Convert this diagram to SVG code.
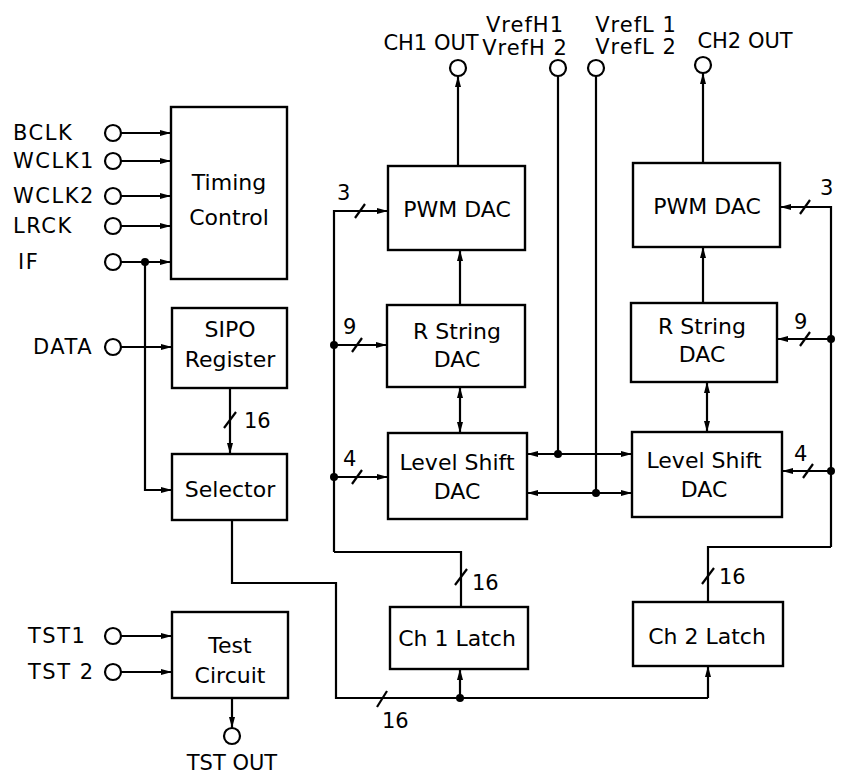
<svg xmlns="http://www.w3.org/2000/svg" width="845" height="774" viewBox="0 0 845 774">
<defs>
<marker id="ar" markerWidth="11" markerHeight="8" refX="11" refY="4" orient="auto-start-reverse" markerUnits="userSpaceOnUse"><path d="M0,1 L11,4 L0,7 z" fill="#000"/></marker>
</defs>
<style>
text{font-family:"DejaVu Sans","Liberation Sans",sans-serif;font-size:21px;fill:#000}
.c{text-anchor:middle}
.bt{font-size:22px}
.box{fill:#fff;stroke:#000;stroke-width:2.4}
.w{fill:none;stroke:#000;stroke-width:2.2}
.a{marker-end:url(#ar)}
.b{marker-start:url(#ar);marker-end:url(#ar)}
.pin{fill:#fff;stroke:#000;stroke-width:2.2}
.dot{fill:#000}
.lbl{letter-spacing:1.5px}
.ls{letter-spacing:1px}
</style>
<rect width="845" height="774" fill="#fff"/>

<g id="connectors">
<path class="w a" d="M121,133 H171"/>
<path class="w a" d="M121,161 H171"/>
<path class="w a" d="M121,196 H171"/>
<path class="w a" d="M121,226 H171"/>
<path class="w a" d="M121,262 H171"/>
<path class="w a" d="M145,262 V490 H172"/>
<circle class="dot" cx="145" cy="262" r="4"/>
<path class="w a" d="M121,347 H172"/>
<path class="w a" d="M230,388 V454"/>
<path class="w" d="M224,428 L236,412"/>
<path class="w" d="M232,520 V583 H336 V698 H708"/>
<path class="w a" d="M708,698 V666"/>
<path class="w a" d="M460,698 V669"/>
<circle class="dot" cx="460" cy="698" r="4"/>
<path class="w" d="M377,707 L387,691"/>
<path class="w a" d="M334,552 V211 H388"/>
<path class="w" d="M334,552 H461 V607"/>
<path class="w" d="M455,585 L467,569"/>
<path class="w" d="M355,218 L365,204"/>
<path class="w a" d="M334,345 H387"/>
<path class="w" d="M352,352 L362,338"/>
<circle class="dot" cx="334" cy="345" r="4"/>
<path class="w a" d="M334,477 H388"/>
<path class="w" d="M352,484 L362,470"/>
<circle class="dot" cx="334" cy="477" r="4"/>
<path class="w a" d="M831,547 V207 H780"/>
<path class="w" d="M831,547 H708 V602"/>
<path class="w" d="M702,584 L714,568"/>
<path class="w" d="M800,214 L810,200"/>
<path class="w a" d="M831,339 H777"/>
<path class="w" d="M800,346 L810,332"/>
<circle class="dot" cx="831" cy="339" r="4"/>
<path class="w a" d="M831,471 H782"/>
<path class="w" d="M803,478 L813,464"/>
<circle class="dot" cx="831" cy="471" r="4"/>
<path class="w a" d="M458,166 V76"/>
<path class="w a" d="M460,305 V250"/>
<path class="w b" d="M460,387 V433"/>
<path class="w a" d="M703,163 V73"/>
<path class="w a" d="M703,303 V247"/>
<path class="w b" d="M707,382 V432"/>
<path class="w" d="M558,76 V454"/>
<path class="w" d="M596,76 V493"/>
<path class="w b" d="M527,454 H632"/>
<path class="w b" d="M527,493 H632"/>
<circle class="dot" cx="558" cy="454" r="4"/>
<circle class="dot" cx="596" cy="493" r="4"/>
<path class="w a" d="M121,636 H172"/>
<path class="w a" d="M121,672 H172"/>
<path class="w a" d="M232,698 V728"/>
</g>

<g id="pins">
<circle class="pin" cx="113" cy="133" r="8"/>
<circle class="pin" cx="113" cy="161" r="8"/>
<circle class="pin" cx="113" cy="196" r="8"/>
<circle class="pin" cx="113" cy="226" r="8"/>
<circle class="pin" cx="113" cy="262" r="8"/>
<circle class="pin" cx="113" cy="347" r="8"/>
<circle class="pin" cx="113" cy="636" r="8"/>
<circle class="pin" cx="113" cy="672" r="8"/>
<circle class="pin" cx="232" cy="736" r="8"/>
<circle class="pin" cx="458" cy="68" r="8"/>
<circle class="pin" cx="558" cy="68" r="8"/>
<circle class="pin" cx="596" cy="68" r="8"/>
<circle class="pin" cx="703" cy="65" r="8"/>
</g>

<g id="labels">
<text class="lbl" x="13" y="140">BCLK</text>
<text class="lbl" x="13" y="168">WCLK1</text>
<text class="lbl" x="13" y="203">WCLK2</text>
<text class="lbl" x="13" y="233">LRCK</text>
<text class="lbl" x="18" y="269">IF</text>
<text class="lbl" x="33" y="354">DATA</text>
<text class="lbl" x="28" y="643">TST1</text>
<text class="lbl" x="28" y="679">TST 2</text>
<text class="c" x="232" y="770">TST OUT</text>
<text class="c" x="431" y="50">CH1 OUT</text>
<text class="c ls" x="525" y="32">VrefH1</text>
<text class="c ls" x="525" y="55">VrefH 2</text>
<text class="c ls" x="636" y="32">VrefL 1</text>
<text class="c ls" x="636" y="54">VrefL 2</text>
<text class="c" x="745" y="48">CH2 OUT</text>
<text x="244" y="428">16</text>
<text x="337" y="200">3</text>
<text x="820" y="195">3</text>
<text x="343" y="334">9</text>
<text x="794" y="329">9</text>
<text x="343" y="466">4</text>
<text x="794" y="461">4</text>
<text x="472" y="590">16</text>
<text x="719" y="584">16</text>
<text x="382" y="728">16</text>
</g>

<g id="timing"><rect class="box" x="171" y="107" width="116" height="172"/><text class="c bt" x="229" y="190">Timing</text><text class="c bt" x="229" y="225">Control</text></g>
<g id="sipo"><rect class="box" x="172" y="308" width="115" height="80"/><text class="c bt" x="230" y="337">SIPO</text><text class="c bt" x="230" y="367">Register</text></g>
<g id="selector"><rect class="box" x="172" y="454" width="115" height="66"/><text class="c bt" x="230" y="497">Selector</text></g>
<g id="test"><rect class="box" x="172" y="612" width="116" height="86"/><text class="c bt" x="230" y="653">Test</text><text class="c bt" x="230" y="683">Circuit</text></g>
<g id="pwm1"><rect class="box" x="388" y="166" width="137" height="84"/><text class="c bt" x="457" y="217">PWM DAC</text></g>
<g id="rstr1"><rect class="box" x="387" y="305" width="138" height="82"/><text class="c bt" x="457" y="339">R String</text><text class="c bt" x="457" y="367">DAC</text></g>
<g id="lvl1"><rect class="box" x="388" y="433" width="139" height="86"/><text class="c bt" x="457" y="470">Level Shift</text><text class="c bt" x="457" y="499">DAC</text></g>
<g id="latch1"><rect class="box" x="390" y="607" width="138" height="62"/><text class="c bt" x="457" y="646">Ch 1 Latch</text></g>
<g id="pwm2"><rect class="box" x="633" y="163" width="147" height="84"/><text class="c bt" x="707" y="214">PWM DAC</text></g>
<g id="rstr2"><rect class="box" x="631" y="303" width="146" height="79"/><text class="c bt" x="702" y="334">R String</text><text class="c bt" x="702" y="362">DAC</text></g>
<g id="lvl2"><rect class="box" x="632" y="432" width="150" height="85"/><text class="c bt" x="704" y="468">Level Shift</text><text class="c bt" x="704" y="497">DAC</text></g>
<g id="latch2"><rect class="box" x="633" y="602" width="150" height="64"/><text class="c bt" x="707" y="644">Ch 2 Latch</text></g>
</svg>
